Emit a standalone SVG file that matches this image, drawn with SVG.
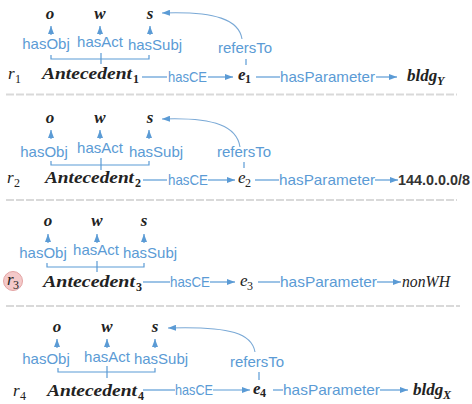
<svg xmlns="http://www.w3.org/2000/svg" width="472" height="404" viewBox="0 0 472 404">
<style>
.lbl{font-family:"Liberation Sans",Arial,sans-serif;font-size:15px;fill:#5b9bd5}
.var{font-family:"Liberation Serif","DejaVu Serif",serif;font-size:17px;font-weight:bold;font-style:italic;fill:#222}
.it{font-family:"Liberation Serif","DejaVu Serif",serif;font-size:17px;font-style:italic;fill:#222}
.sub{font-family:"Liberation Serif","DejaVu Serif",serif;font-size:12px;fill:#222}
.subb{font-family:"Liberation Serif","DejaVu Serif",serif;font-size:12px;font-weight:bold;fill:#222}
.subi{font-family:"Liberation Serif","DejaVu Serif",serif;font-size:12px;font-weight:bold;font-style:italic;fill:#222}
.ip{font-family:"Liberation Sans",Arial,sans-serif;font-size:14px;font-weight:bold;fill:#333}
.ln{stroke:#5b9bd5;stroke-width:1.2;fill:none}
.cv{stroke:#7aa9d6;stroke-width:1.1;fill:none}
.arr{marker-end:url(#ah)}
.sep{stroke:#d9d9d9;stroke-width:2;stroke-dasharray:8 2;fill:none}
</style>
<defs>
<marker id="ah" viewBox="0 0 8 6" refX="8" refY="3" markerWidth="8" markerHeight="6" markerUnits="userSpaceOnUse" orient="auto">
<path d="M0,0 L8,3 L0,6 z" fill="#5b9bd5"/>
</marker>
</defs>

<g id="separators">
<path class="sep" d="M6 94.5 H457"/>
<path class="sep" d="M6 200 H457"/>
<path class="sep" d="M6 306 H460"/>
</g>

<!-- Row 1 -->
<g id="r1">
<text class="it" x="8" y="79">r</text><text class="sub" x="15" y="83">1</text>
</g>
<g id="o1"><text class="var" x="50" y="19" text-anchor="middle">o</text></g>
<g id="w1"><text class="var" x="100" y="19" text-anchor="middle">w</text></g>
<g id="s1"><text class="var" x="150" y="19" text-anchor="middle">s</text></g>
<g id="antecedent1"><text class="var" x="42" y="79" textLength="90" lengthAdjust="spacingAndGlyphs">Antecedent</text><text class="subb" x="133" y="83">1</text></g>
<g id="e1"><text class="var" x="238" y="80">e</text><text class="subb" x="245" y="83">1</text></g>
<g id="bldgY"><text class="var" x="407" y="81">bldg</text><text class="subi" x="437" y="85">Y</text></g>

<!-- Row 2 -->
<g id="r2"><text class="it" x="7" y="183">r</text><text class="sub" x="14" y="187">2</text></g>
<g id="o2"><text class="var" x="50" y="123" text-anchor="middle">o</text></g>
<g id="w2"><text class="var" x="100" y="123" text-anchor="middle">w</text></g>
<g id="s2"><text class="var" x="150" y="123" text-anchor="middle">s</text></g>
<g id="antecedent2"><text class="var" x="45" y="183" textLength="89" lengthAdjust="spacingAndGlyphs">Antecedent</text><text class="subb" x="135" y="187">2</text></g>
<g id="e2"><text class="it" x="238" y="183">e</text><text class="sub" x="245" y="187">2</text></g>
<g id="ip"><text class="ip" x="398" y="185" textLength="72" lengthAdjust="spacingAndGlyphs">144.0.0.0/8</text></g>

<!-- Row 3 -->
<g id="r3"><circle cx="13" cy="281" r="9.5" fill="#f4c9c9" stroke="#e3a4a4" stroke-width="1"/><text class="it" x="7" y="285">r</text><text class="sub" x="13" y="289">3</text></g>
<g id="o3"><text class="var" x="48" y="226" text-anchor="middle">o</text></g>
<g id="w3"><text class="var" x="97" y="226" text-anchor="middle">w</text></g>
<g id="s3"><text class="var" x="144" y="226" text-anchor="middle">s</text></g>
<g id="antecedent3"><text class="var" x="43" y="287" textLength="92" lengthAdjust="spacingAndGlyphs">Antecedent</text><text class="subb" x="136" y="291">3</text></g>
<g id="e3"><text class="it" x="240" y="286">e</text><text class="sub" x="247" y="290">3</text></g>
<g id="nonWH"><text class="it" x="402" y="287" textLength="48" lengthAdjust="spacingAndGlyphs">nonWH</text></g>

<!-- Row 4 -->
<g id="r4"><text class="it" x="13" y="396">r</text><text class="sub" x="20" y="400">4</text></g>
<g id="o4"><text class="var" x="57" y="332" text-anchor="middle">o</text></g>
<g id="w4"><text class="var" x="107" y="332" text-anchor="middle">w</text></g>
<g id="s4"><text class="var" x="155" y="332" text-anchor="middle">s</text></g>
<g id="antecedent4"><text class="var" x="47" y="396" textLength="90" lengthAdjust="spacingAndGlyphs">Antecedent</text><text class="subb" x="138" y="400">4</text></g>
<g id="e4"><text class="var" x="253" y="394">e</text><text class="subb" x="260" y="397">4</text></g>
<g id="bldgX"><text class="var" x="413" y="395">bldg</text><text class="subi" x="443" y="399">X</text></g>

<g id="connectors">
<!-- Row 1 -->
<path class="ln arr" d="M51 35 V26"/>
<path class="ln arr" d="M100 35 V26"/>
<path class="ln arr" d="M150 35 V26"/>
<text class="lbl" x="46" y="49" text-anchor="middle">hasObj</text>
<text class="lbl" x="100" y="47" text-anchor="middle">hasAct</text>
<text class="lbl" x="155" y="50" text-anchor="middle">hasSubj</text>
<path class="ln" d="M51 55 V59 H149 V55 M101 53 V64"/>
<path class="ln" d="M142 77 H167"/>
<text class="lbl" x="168" y="82" textLength="39" lengthAdjust="spacingAndGlyphs">hasCE</text>
<path class="ln arr" d="M208 77 H233"/>
<text class="lbl" x="245" y="53" text-anchor="middle">refersTo</text>
<path class="ln" d="M246 59 V65"/>
<path class="cv arr" d="M242 39 C239 20 216 11 162 13"/>
<path class="ln" d="M256 77 H280"/>
<text class="lbl" x="280" y="82" textLength="95" lengthAdjust="spacingAndGlyphs">hasParameter</text>
<path class="ln arr" d="M376 77 H397"/>

<!-- Row 2 -->
<path class="ln arr" d="M51 139 V130"/>
<path class="ln arr" d="M100 139 V130"/>
<path class="ln arr" d="M149 139 V130"/>
<text class="lbl" x="44" y="157" text-anchor="middle">hasObj</text>
<text class="lbl" x="100" y="153" text-anchor="middle">hasAct</text>
<text class="lbl" x="156" y="157" text-anchor="middle">hasSubj</text>
<path class="ln" d="M51 161 V165 H149 V161 M101 158 V170"/>
<path class="ln" d="M143 180 H167"/>
<text class="lbl" x="168" y="185" textLength="40" lengthAdjust="spacingAndGlyphs">hasCE</text>
<path class="ln arr" d="M208 180 H235"/>
<text class="lbl" x="244" y="157" text-anchor="middle">refersTo</text>
<path class="ln" d="M244 162 V168"/>
<path class="cv arr" d="M240 147 C237 127 216 117 162 119"/>
<path class="ln" d="M255 180 H279"/>
<text class="lbl" x="279" y="185" textLength="96" lengthAdjust="spacingAndGlyphs">hasParameter</text>
<path class="ln arr" d="M375 180 H398"/>

<!-- Row 3 -->
<path class="ln arr" d="M48 243 V234"/>
<path class="ln arr" d="M97 243 V234"/>
<path class="ln arr" d="M144 243 V234"/>
<text class="lbl" x="43" y="258" text-anchor="middle">hasObj</text>
<text class="lbl" x="96" y="255" text-anchor="middle">hasAct</text>
<text class="lbl" x="150" y="258" text-anchor="middle">hasSubj</text>
<path class="ln" d="M47 263 V267 H144 V263 M97 261 V272"/>
<path class="ln" d="M143 282 H170"/>
<text class="lbl" x="170" y="287" textLength="40" lengthAdjust="spacingAndGlyphs">hasCE</text>
<path class="ln arr" d="M210 282 H235"/>
<path class="ln" d="M258 282 H280"/>
<text class="lbl" x="280" y="287" textLength="97" lengthAdjust="spacingAndGlyphs">hasParameter</text>
<path class="ln arr" d="M377 282 H401"/>

<!-- Row 4 -->
<path class="ln arr" d="M57 348 V339"/>
<path class="ln arr" d="M107 348 V339"/>
<path class="ln arr" d="M155 348 V339"/>
<text class="lbl" x="46" y="364" text-anchor="middle">hasObj</text>
<text class="lbl" x="107" y="362" text-anchor="middle">hasAct</text>
<text class="lbl" x="161" y="364" text-anchor="middle">hasSubj</text>
<path class="ln" d="M58 368 V372 H155 V368 M107 366 V378"/>
<path class="ln" d="M143 390 H175"/>
<text class="lbl" x="175" y="395" textLength="38" lengthAdjust="spacingAndGlyphs">hasCE</text>
<path class="ln arr" d="M213 390 H250"/>
<text class="lbl" x="257" y="367" text-anchor="middle">refersTo</text>
<path class="ln" d="M259 372 V380"/>
<path class="cv arr" d="M255 352 C252 334 232 326 168 328"/>
<path class="ln" d="M273 390 H283"/>
<text class="lbl" x="283" y="395" textLength="97" lengthAdjust="spacingAndGlyphs">hasParameter</text>
<path class="ln arr" d="M380 390 H408"/>
</g>
</svg>
